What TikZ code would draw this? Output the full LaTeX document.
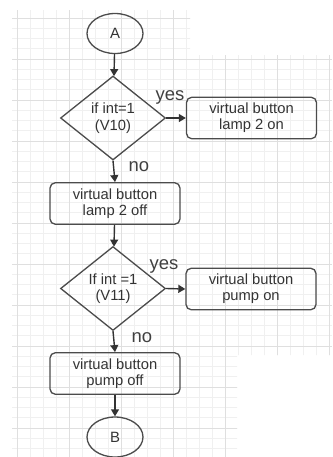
\documentclass[tikz,border=0pt]{standalone}
\usepackage{fontspec}
\setmainfont{Liberation Sans}
\usetikzlibrary{shapes.geometric,arrows.meta}

\begin{document}
\begin{tikzpicture}[x=0.02cm,y=-0.02cm,
    minorgrid/.style={draw=gray!12,line width=0.4pt},
    majorgrid/.style={draw=gray!25,line width=0.5pt},
    box/.style={draw=gray!60!black,rounded corners=3pt,line width=0.75pt,
      minimum width=2.6cm,minimum height=0.83cm,inner sep=0pt,align=center,
      font=\fontsize{8.4}{9.2}\selectfont,text=black!80},
    test/.style={draw=gray!60!black,diamond,line width=0.75pt,
      minimum width=2.1cm,minimum height=1.68cm,inner sep=0pt,align=center,
      font=\fontsize{8.4}{9.4}\selectfont,text=black!80},
    term/.style={draw=gray!60!black,ellipse,line width=0.75pt,
      minimum width=1.12cm,minimum height=0.8cm,inner sep=0pt,
      font=\fontsize{8.5}{9}\selectfont,text=black!80},
    flow/.style={-{Triangle[length=4pt,width=4.5pt]},line width=0.8pt,draw=black!80},
    lbl/.style={font=\fontsize{10.5}{11}\selectfont,text=black!75,inner sep=0pt}]
      \useasboundingbox (0,0) rectangle (332,457);
      % canvas grid
      \begin{scope}
        \clip (12,10) -- (190,10) -- (190,55) -- (332,55) -- (332,355)
          -- (237,355) -- (237,457) -- (12,457) -- cycle;
        \foreach \x in {4,17,...,332} \draw[minorgrid] (\x,0) -- (\x,457);
        \foreach \y in {7.75,18,...,457} \draw[minorgrid] (0,\y) -- (332,\y);
        \foreach \x in {17,69,...,332} \draw[majorgrid] (\x,0) -- (\x,457);
        \foreach \y in {18,59,...,457} \draw[majorgrid] (0,\y) -- (332,\y);
      \end{scope}
      % nodes
      \node[term] (A)    at (115, 33.5) {A};
      \node[test] (ifa)  at (113,118)   {if int=1\\(V10)};
      \node[box]  (lampon)  at (251.5,118) {virtual button\\lamp 2 on};
      \node[box]  (lampoff) at (115,203.5) {virtual button\\lamp 2 off};
      \node[test] (ifb)  at (113,288.5) {If int =1\\(V11)};
      \node[box]  (pumpon)  at (251,289)   {virtual button\\pump on};
      \node[box]  (pumpoff) at (115,373.5) {virtual button\\pump off};
      \node[term] (B)    at (115,437)   {B};
      % connectors
      \draw[flow] (A) -- (ifa);
      \draw[flow] (ifa.east) -- (lampon.west);
      \draw[flow] (ifa.south) -- (lampoff.north);
      \draw[flow] (lampoff) -- (ifb);
      \draw[flow] (ifb.east) -- (pumpon.west);
      \draw[flow] (ifb.south) -- (pumpoff.north);
      \draw[flow] (pumpoff) -- (B);
      % branch labels
      \node[lbl] (yesa) at (170, 97)  {yes};
      \node[lbl] (noa)  at (139,167)  {no};
      \node[lbl] (yesb) at (164,266)  {yes};
      \node[lbl] (nob)  at (142,338)  {no};
\end{tikzpicture}
\end{document}
